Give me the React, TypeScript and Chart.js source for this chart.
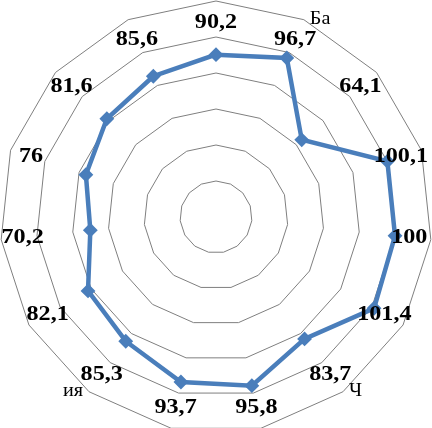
import React, { useEffect, useRef } from "react";
import { Chart, registerables } from "chart.js";

Chart.register(...registerables);

// Category names (only fragments are legible in the reference)
const categories: string[] = ["", "Ба", "", "", "", "", "Ч", "", "", "ия", "", "", "", "", ""];
// Series values
const values: number[] = [90.2, 96.7, 64.1, 100.1, 100, 101.4, 83.7, 95.8, 93.7, 85.3, 82.1, 70.2, 76, 81.6, 85.6];
// Axis
const axisMin = 0;
const axisMax = 120;
const axisStep = 20;
// ring (in axis units) on which data labels sit
const labelRing = 108;

const fmt = (v: number) => String(v).replace(".", ",");

const labelsPlugin = {
  id: "radarLabels",
  afterDatasetsDraw(chart: any) {
    const scale = chart.scales.r;
    const ctx: CanvasRenderingContext2D = chart.ctx;
    ctx.save();
    ctx.fillStyle = "#000000";
    ctx.textBaseline = "middle";
    values.forEach((v, i) => {
      const p = scale.getPointPosition(i, scale.getDistanceFromCenterForValue(labelRing));
      ctx.save();
      ctx.translate(p.x, p.y);
      ctx.scale(1.15, 1);
      ctx.font = "bold 21px 'Liberation Serif'";
      ctx.textAlign = "center";
      ctx.fillText(fmt(v), 0, 0);
      ctx.restore();
    });
    categories.forEach((c, i) => {
      if (!c) return;
      const p = scale.getPointPosition(i, scale.drawingArea);
      const right = p.x >= scale.xCenter;
      ctx.save();
      ctx.translate(p.x + (right ? 6 : -6), p.y);
      ctx.scale(1.12, 1);
      ctx.font = "18px 'Liberation Serif'";
      ctx.textAlign = right ? "left" : "right";
      ctx.fillText(c, 0, 0);
      ctx.restore();
    });
    ctx.restore();
  },
};

export default function App() {
  const ref = useRef<HTMLCanvasElement | null>(null);
  useEffect(() => {
    if (!ref.current) return;
    const chart = new Chart(ref.current, {
      type: "radar",
      data: {
        labels: categories,
        datasets: [
          {
            data: values,
            borderColor: "#4A7EBB",
            backgroundColor: "#4A7EBB",
            borderWidth: 4.5,
            fill: false,
            tension: 0,
            pointStyle: "rectRot",
            pointRadius: 6,
            pointBorderWidth: 2,
            pointBackgroundColor: "#4A7EBB",
            pointBorderColor: "#4A7EBB",
          },
        ],
      },
      options: {
        responsive: false,
        animation: false,
        devicePixelRatio: 1,
        layout: { padding: 0 },
        plugins: { legend: { display: false }, tooltip: { enabled: false } },
        scales: {
          r: {
            min: axisMin,
            max: axisMax,
            beginAtZero: true,
            ticks: { display: false, stepSize: axisStep },
            grid: { color: "#7f7f7f", lineWidth: 1, circular: false },
            angleLines: { display: false },
            pointLabels: { display: false },
          },
        },
      },
      plugins: [labelsPlugin],
    });
    return () => chart.destroy();
  }, []);
  return (
    <div style={{ position: "absolute", left: 0, top: 0, width: 432, height: 434, background: "#fff" }}>
      <canvas ref={ref} width={432} height={434} style={{ display: "block" }} />
    </div>
  );
}
